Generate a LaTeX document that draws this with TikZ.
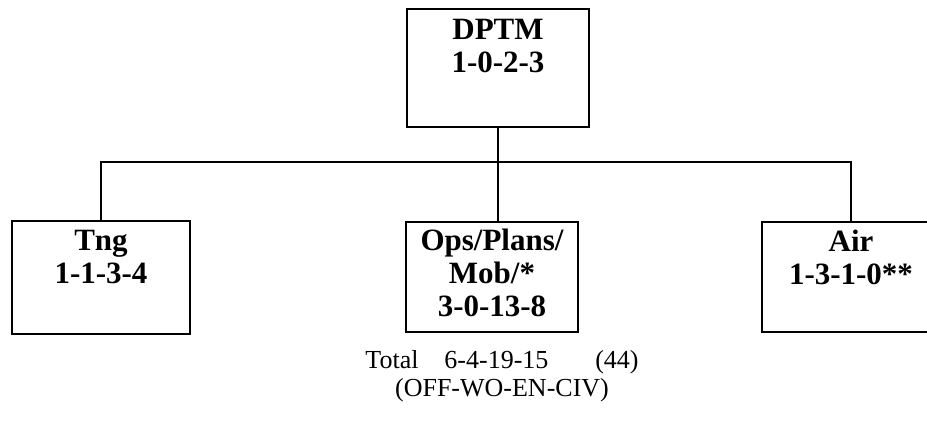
\documentclass[tikz,border=0pt]{standalone}
\usepackage{fontspec}
\setmainfont{Liberation Serif}
\usetikzlibrary{positioning}
\tikzset{
  unit/.style={draw, line width=1pt, minimum width=89pt, minimum height=56pt, inner sep=0pt},
  unitname/.style={font=\bfseries\fontsize{15.5}{16.5}\selectfont, align=center, inner sep=0pt},
  wire/.style={line width=0.9pt}
}
\begin{document}
\begin{tikzpicture}[x=0.5pt,y=-0.5pt]
  \useasboundingbox (0,0) rectangle (927,427);
  % Boxes
  \node[unit, minimum width=91pt, minimum height=59pt] (dptm) at (498,68) {};
  \node[unit, minimum height=56.5pt] (tng) at (101,278) {};
  \node[unit, minimum width=86pt, minimum height=55pt] (ops) at (492,277) {};
  \node[unit, minimum height=55pt] (air) at (851,277) {};
  % Box texts
  \node[unitname, below=5.5pt of dptm.north] (dptmtxt) {DPTM\\1-0-2-3};
  \node[unitname, below=4.5pt of tng.north] (tngtxt) {Tng\\1-1-3-4};
  \node[unitname, below=4pt of ops.north] (opstxt) {Ops/Plans/\\Mob/*\\3-0-13-8};
  \node[unitname, below=4.5pt of air.north] (airtxt) {Air\\1-3-1-0**};
  % Connectors
  \coordinate (bus) at (0,162);
  \draw[wire] (dptm.south) -- (dptm.south |- ops.north);
  \draw[wire] (tng.north) -- (tng.north |- bus) -- (air.north |- bus) -- (air.north);
  % Totals
  \node[font=\fontsize{13}{14}\selectfont, align=center, inner sep=0pt] (total) at (502,376)
    {Total\hspace{1em}6-4-19-15\hspace{1.8em}(44)\\(OFF-WO-EN-CIV)};
\end{tikzpicture}
\end{document}
